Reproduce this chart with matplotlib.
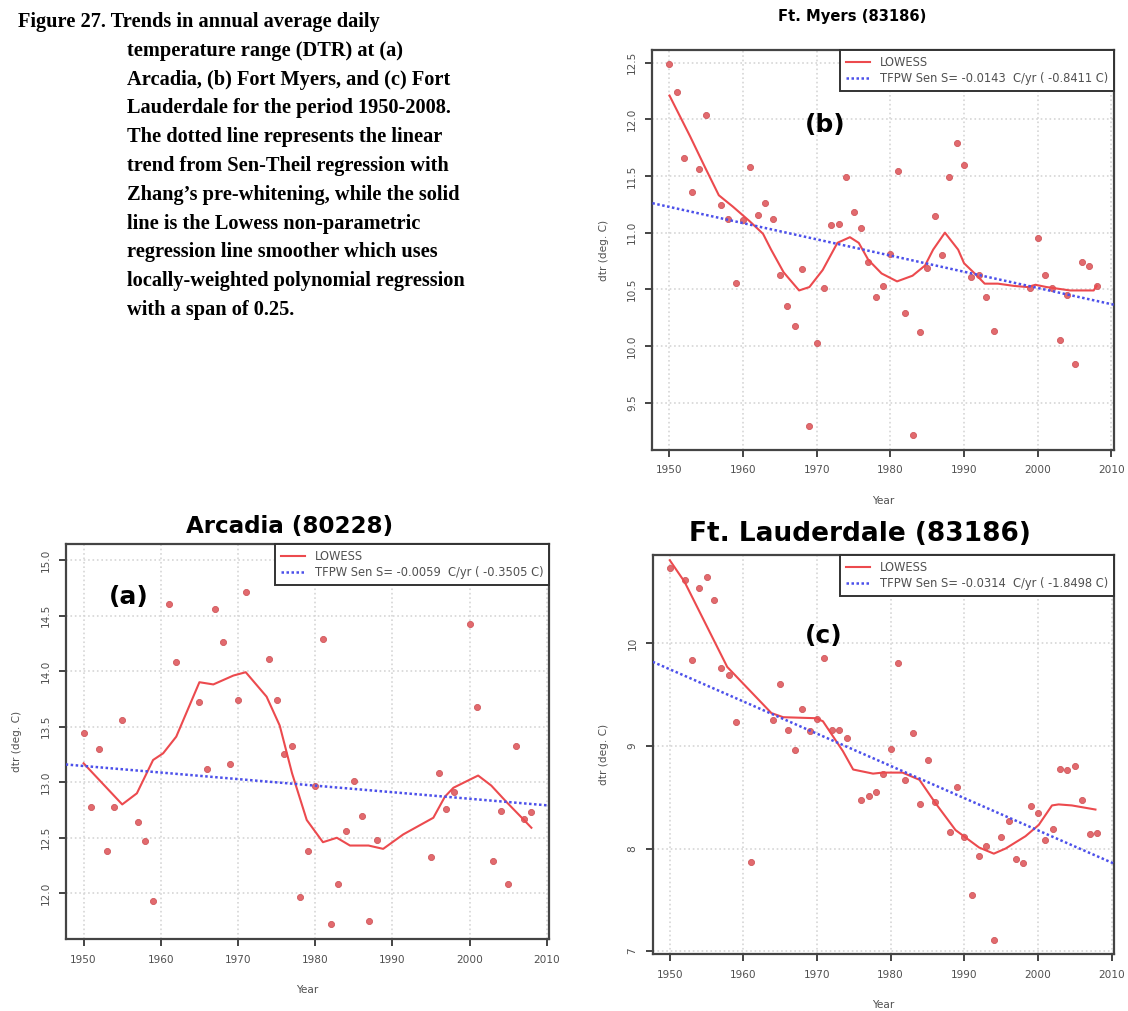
import numpy as np
import matplotlib
matplotlib.use("Agg")
import matplotlib.pyplot as plt
from matplotlib.lines import Line2D

# Ft. Myers (83186): annual mean DTR
myers_year = [1950, 1951, 1952, 1953, 1954, 1955, 1957, 1958, 1959, 1960, 1961, 1962,
              1963, 1964, 1965, 1966, 1967, 1968, 1969, 1970, 1971, 1972, 1973, 1974,
              1975, 1976, 1977, 1978, 1979, 1980, 1981, 1982, 1983, 1984, 1985, 1986,
              1987, 1988, 1989, 1990, 1991, 1992, 1993, 1994, 1999, 2000, 2001, 2002,
              2003, 2004, 2005, 2006, 2007, 2008]
myers_dtr = [12.49, 12.24, 11.66, 11.36, 11.56, 12.04, 11.24, 11.12, 10.56, 11.11, 11.58, 11.16,
             11.26, 11.12, 10.63, 10.35, 10.18, 10.68, 9.29, 10.03, 10.51, 11.07, 11.08, 11.49,
             11.18, 11.04, 10.74, 10.43, 10.53, 10.81, 11.54, 10.29, 9.21, 10.12, 10.69, 11.15,
             10.80, 11.49, 11.79, 11.60, 10.61, 10.63, 10.43, 10.13, 10.51, 10.95, 10.63, 10.51,
             10.05, 10.45, 9.84, 10.74, 10.71, 10.53]
myers_lowess_year = [1950, 1952.8, 1954.8, 1956.7, 1958.6, 1960.9, 1962.7, 1963.8, 1965.5,
                     1967.6, 1969, 1970.8, 1972.8, 1974.5, 1975.7, 1977, 1978.8, 1980.9,
                     1983, 1984.7, 1985.8, 1987.4, 1989.2, 1990, 1991.6, 1992.8, 1994.6,
                     1996.8, 1998.6, 1999.7, 2001.2, 2004.4, 2007.6, 2008]
myers_lowess = [12.21, 11.85, 11.58, 11.33, 11.23, 11.10, 10.99, 10.85, 10.65,
                10.49, 10.52, 10.67, 10.91, 10.96, 10.91, 10.76, 10.64, 10.57,
                10.62, 10.71, 10.85, 11.00, 10.85, 10.73, 10.63, 10.55, 10.55,
                10.53, 10.52, 10.54, 10.52, 10.49, 10.49, 10.53]
myers_slope = -0.0143
myers_sen_1950 = 11.227
myers_label = "TFPW Sen S= -0.0143  C/yr ( -0.8411 C)"

# Arcadia (80228)
arcadia_year = [1950, 1951, 1952, 1953, 1954, 1955, 1957, 1958, 1959, 1961, 1962, 1965,
                1966, 1967, 1968, 1969, 1970, 1971, 1974, 1975, 1976, 1977, 1978, 1979,
                1980, 1981, 1982, 1983, 1984, 1985, 1986, 1987, 1988, 1995, 1996, 1997,
                1998, 2000, 2001, 2003, 2004, 2005, 2006, 2007, 2008]
arcadia_dtr = [13.44, 12.78, 13.30, 12.38, 12.78, 13.56, 12.64, 12.47, 11.93, 14.60, 14.08, 13.72,
               13.12, 14.56, 14.26, 13.16, 13.74, 14.71, 14.11, 13.74, 13.25, 13.33, 11.97, 12.38,
               12.97, 14.29, 11.72, 12.08, 12.56, 13.01, 12.70, 11.75, 12.48, 12.33, 13.08, 12.76,
               12.91, 14.42, 13.68, 12.29, 12.74, 12.08, 13.33, 12.67, 12.73]
arcadia_lowess_year = [1950, 1955, 1956.9, 1959, 1960.3, 1962, 1965, 1966.8, 1969.4, 1971,
                       1973.7, 1975.4, 1977, 1978.9, 1981, 1982.8, 1984.5, 1986.9, 1988.8,
                       1991.4, 1995.3, 1996.8, 1997.9, 2001.1, 2002.8, 2004.8, 2006.9, 2008]
arcadia_lowess = [13.17, 12.80, 12.90, 13.20, 13.26, 13.41, 13.90, 13.88, 13.96, 13.99,
                  13.77, 13.51, 13.08, 12.66, 12.46, 12.50, 12.43, 12.43, 12.40,
                  12.53, 12.68, 12.87, 12.95, 13.06, 12.97, 12.82, 12.67, 12.59]
arcadia_slope = -0.0059
arcadia_sen_1950 = 13.146
arcadia_label = "TFPW Sen S= -0.0059  C/yr ( -0.3505 C)"

# Ft. Lauderdale (83186)
laud_year = [1950, 1952, 1953, 1954, 1955, 1956, 1957, 1958, 1959, 1961, 1964, 1965,
             1966, 1967, 1968, 1969, 1970, 1971, 1972, 1973, 1974, 1976, 1977, 1978,
             1979, 1980, 1981, 1982, 1983, 1984, 1985, 1986, 1988, 1989, 1990, 1991,
             1992, 1993, 1994, 1995, 1996, 1997, 1998, 1999, 2000, 2001, 2002, 2003,
             2004, 2005, 2006, 2007, 2008]
laud_dtr = [10.73, 10.62, 9.84, 10.54, 10.65, 10.42, 9.76, 9.69, 9.23, 7.87, 9.25, 9.60,
            9.16, 8.96, 9.36, 9.15, 9.26, 9.86, 9.16, 9.16, 9.08, 8.47, 8.51, 8.55,
            8.73, 8.97, 9.81, 8.67, 9.13, 8.43, 8.86, 8.45, 8.16, 8.60, 8.11, 7.55,
            7.93, 8.02, 7.11, 8.11, 8.27, 7.90, 7.86, 8.41, 8.35, 8.08, 8.19, 8.78,
            8.77, 8.80, 8.47, 8.14, 8.15]
laud_lowess_year = [1950, 1952, 1957.8, 1963.8, 1965.4, 1969.9, 1970.8, 1973.5, 1974.9,
                    1977.6, 1978.9, 1981.6, 1983.9, 1986.1, 1988.8, 1992, 1994, 1995.6,
                    1998.3, 2000.1, 2001.9, 2002.8, 2004.6, 2007.8]
laud_lowess = [10.81, 10.60, 9.77, 9.32, 9.28, 9.27, 9.24, 8.95, 8.77,
               8.73, 8.74, 8.74, 8.67, 8.44, 8.18, 8.01, 7.95, 8.00,
               8.12, 8.23, 8.42, 8.43, 8.42, 8.38]
laud_slope = -0.0314
laud_sen_1950 = 9.747
laud_label = "TFPW Sen S= -0.0314  C/yr ( -1.8498 C)"

caption_lines = [
    "Figure 27. Trends in annual average daily",
    "temperature range (DTR) at (a)",
    "Arcadia, (b) Fort Myers, and (c) Fort",
    "Lauderdale for the period 1950-2008.",
    "The dotted line represents the linear",
    "trend from Sen-Theil regression with",
    "Zhang\u2019s pre-whitening, while the solid",
    "line is the Lowess non-parametric",
    "regression line smoother which uses",
    "locally-weighted polynomial regression",
    "with a span of 0.25.",
]

W, H = 1128, 1011
fig = plt.figure(figsize=(W / 100, H / 100), dpi=100)

RED = "#ec4a4e"
PT = "#e26a6e"
BLUE = "#4c50ea"
AXC = "#444444"
TXT = "#505050"


def px_axes(left, top, right, bottom):
    return fig.add_axes([left / W, 1 - bottom / H, (right - left) / W, (bottom - top) / H])


def panel(ax, years, dtr, lw_x, lw_y, slope, b1950, label, yticks, yfmt, ylim):
    ax.set_xlim(1947.68, 2010.32)
    ax.set_ylim(*ylim)
    ax.set_xticks([1950, 1960, 1970, 1980, 1990, 2000, 2010])
    ax.set_yticks(yticks)
    ax.set_yticklabels([yfmt % v for v in yticks], rotation=90, va="center")
    ax.grid(True, color="#d6d6d6", linestyle=":", linewidth=1.2)
    ax.set_axisbelow(True)

    ax.plot(years, dtr, "o", ms=4.4, color=PT, mec="#d0585c", mew=0.6, zorder=3)
    ax.plot(lw_x, lw_y, color=RED, lw=1.5, zorder=4)
    xs = np.array(ax.get_xlim())
    ax.plot(xs, b1950 + slope * (xs - 1950), color=BLUE, lw=1.8, ls=(0, (1, 1)), zorder=5)
    ax.set_xlim(1947.68, 2010.32)

    for s in ax.spines.values():
        s.set_color(AXC)
        s.set_linewidth(1.6)
    ax.tick_params(direction="out", length=5, width=1.4, color=AXC,
                   labelsize=7.6, labelcolor=TXT, pad=6)
    ax.set_xlabel("Year", fontsize=7.6, color=TXT, labelpad=15)
    ax.set_ylabel("dtr (deg. C)", fontsize=7.6, color=TXT, labelpad=13)

    handles = [Line2D([], [], color=RED, lw=1.5),
               Line2D([], [], color=BLUE, lw=1.8, ls=(0, (1, 1)))]
    leg = ax.legend(handles, ["LOWESS", label], loc="upper right", borderaxespad=0,
                    fancybox=False, framealpha=1, fontsize=8.3, handlelength=2.1,
                    handletextpad=0.85, labelspacing=0.3, borderpad=0.5,
                    labelcolor=TXT)
    leg.get_frame().set_edgecolor("#333333")
    leg.get_frame().set_linewidth(1.4)


ax_b = px_axes(652.4, 50, 1113.7, 450)
panel(ax_b, myers_year, myers_dtr, myers_lowess_year, myers_lowess, myers_slope,
      myers_sen_1950, myers_label, [9.5, 10.0, 10.5, 11.0, 11.5, 12.0, 12.5], "%.1f",
      (9.082, 12.612))

ax_a = px_axes(65.7, 544, 549.3, 939.3)
panel(ax_a, arcadia_year, arcadia_dtr, arcadia_lowess_year, arcadia_lowess, arcadia_slope,
      arcadia_sen_1950, arcadia_label, [12.0, 12.5, 13.0, 13.5, 14.0, 14.5, 15.0], "%.1f",
      (11.586, 15.144))

ax_c = px_axes(652.7, 555, 1114, 954.3)
panel(ax_c, laud_year, laud_dtr, laud_lowess_year, laud_lowess, laud_slope,
      laud_sen_1950, laud_label, [7, 8, 9, 10], "%d",
      (6.969, 10.861))

# station titles
for txt, x, y, size in [("Ft. Myers (83186)", 852, 17, 10.6),
                        ("Arcadia (80228)", 290, 527, 16.6),
                        ("Ft. Lauderdale (83186)", 860, 534, 19.0)]:
    fig.text(x / W, 1 - y / H, txt, fontsize=size, fontweight="bold",
             family="DejaVu Sans", ha="center", va="center")

# panel letters
for txt, x, y in [("(b)", 825, 125), ("(a)", 129, 597), ("(c)", 824, 636)]:
    fig.text(x / W, 1 - y / H, txt, fontsize=18, fontweight="bold",
             family="DejaVu Sans", ha="center", va="center")

# caption
for i, line in enumerate(caption_lines):
    x = 18 if i == 0 else 127
    fig.text(x / W, 1 - (22 + i * 28.8) / H, line, fontsize=14.7, fontweight="bold",
             family="Liberation Serif", ha="left", va="center")

fig.savefig("out.png", dpi=100)
